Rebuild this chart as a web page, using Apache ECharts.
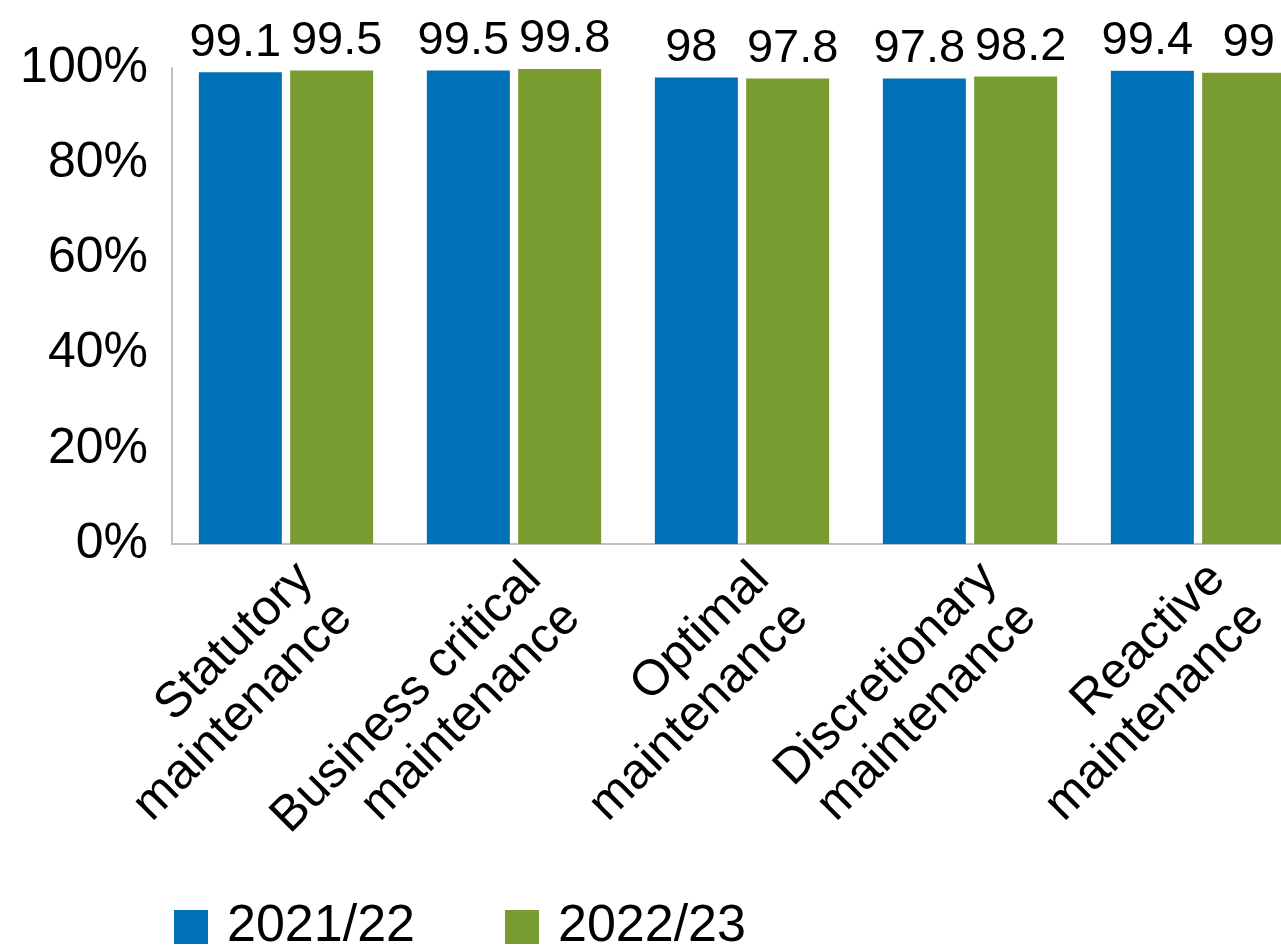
<!DOCTYPE html>
<html>
<head>
<meta charset="utf-8">
<script src="https://cdn.jsdelivr.net/npm/echarts@6/dist/echarts.min.js"></script>
<style>
html,body{margin:0;padding:0;background:#fff;overflow:hidden;width:1281px;height:946px;}
#chart{width:1312px;height:946px;}
</style>
</head>
<body>
<div id="chart"></div>
<script>
const categories = [
  "Statutory\nmaintenance",
  "Business critical\nmaintenance",
  "Optimal\nmaintenance",
  "Discretionary\nmaintenance",
  "Reactive\nmaintenance"
];
const seriesNames = ["2021/22", "2022/23"];
const values2021 = [99.1, 99.5, 98, 97.8, 99.4];
const values2022 = [99.5, 99.8, 97.8, 98.2, 99];
const yTicks = { min: 0, max: 100, interval: 20 };

const FONT = '"Liberation Sans", Arial, Helvetica, sans-serif';
const chart = echarts.init(document.getElementById('chart'));
function labelStyle(dx) {
  return {
    show: true, position: 'top', distance: 6, offset: [dx, 0],
    color: '#000', fontSize: 47, fontFamily: FONT
  };
}
chart.setOption({
  animation: false,
  textStyle: { fontFamily: FONT },
  grid: { left: 172, right: 0, top: 68, bottom: 402, containLabel: false },
  legend: {
    data: seriesNames,
    left: 169, top: 896,
    itemWidth: 34, itemHeight: 34, itemGap: 90,
    icon: 'rect',
    textStyle: { fontSize: 52, color: '#000', fontFamily: FONT, padding: [0, 0, 0, 14] }
  },
  xAxis: {
    type: 'category',
    data: categories,
    axisLine: { show: true, lineStyle: { color: '#BFBFBF', width: 2 } },
    axisTick: { show: false },
    axisLabel: {
      interval: 0, rotate: 45, margin: 8,
      fontSize: 50, lineHeight: 55, color: '#000', fontFamily: FONT,
      align: 'right', verticalAlign: 'top'
    }
  },
  yAxis: {
    type: 'value',
    min: yTicks.min, max: yTicks.max, interval: yTicks.interval,
    axisLine: { show: true, lineStyle: { color: '#BFBFBF', width: 2 } },
    axisTick: { show: false },
    splitLine: { show: false },
    axisLabel: {
      formatter: '{value}%', margin: 24,
      fontSize: 50, color: '#000', fontFamily: FONT
    }
  },
  series: [
    {
      name: seriesNames[0], type: 'bar', data: values2021,
      barWidth: 83, barGap: '10%',
      itemStyle: { color: '#0070B8' },
      label: labelStyle(-5)
    },
    {
      name: seriesNames[1], type: 'bar', data: values2022,
      barWidth: 83, barGap: '10%',
      itemStyle: { color: '#789C2F' },
      label: labelStyle(5)
    }
  ]
});
</script>
</body>
</html>
